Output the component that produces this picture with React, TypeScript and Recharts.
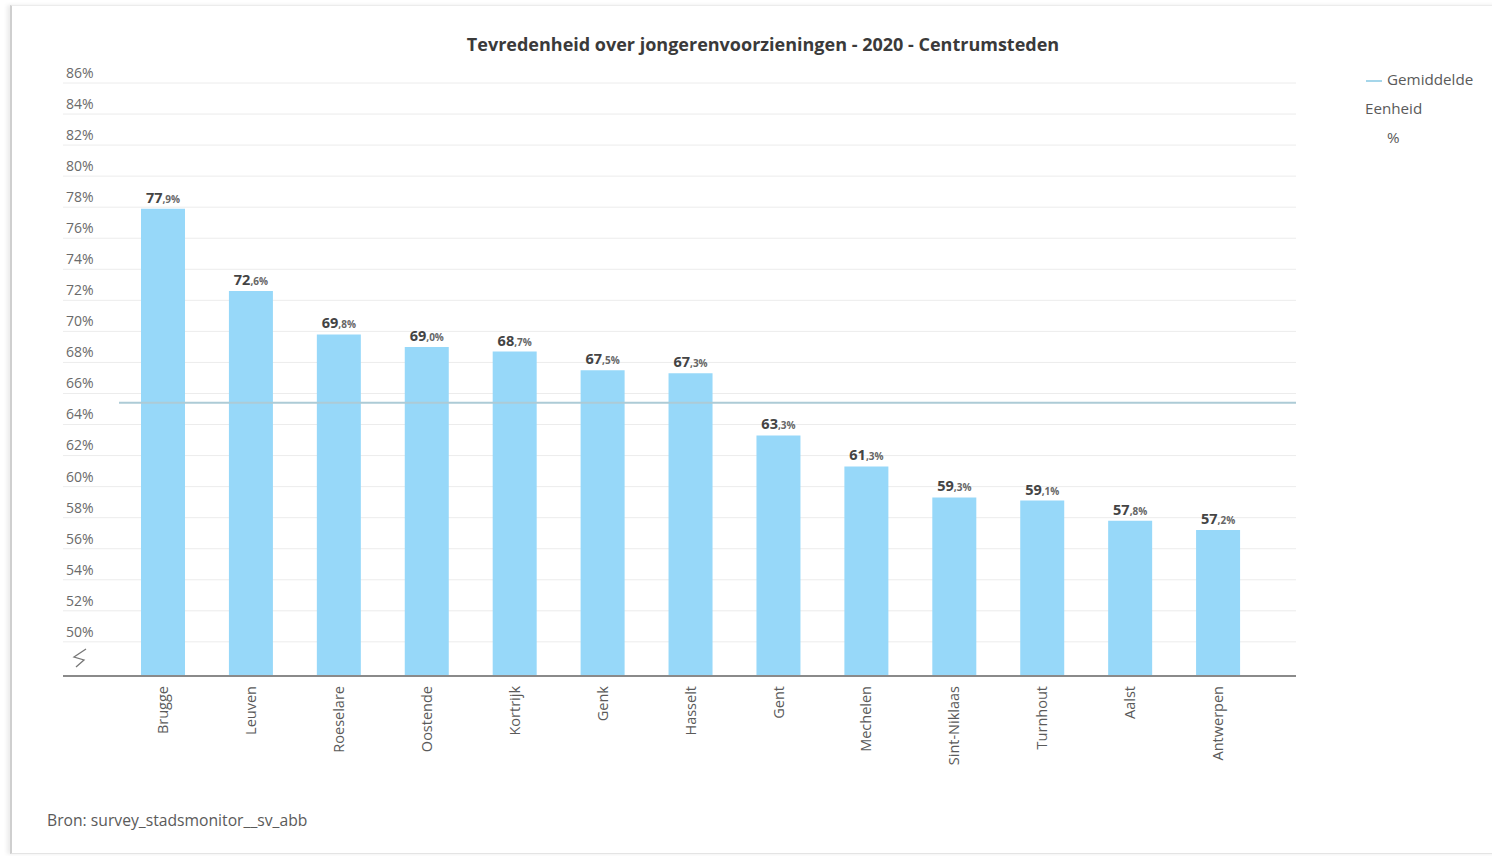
import { Bar, BarChart, CartesianGrid, LabelList, ReferenceLine, XAxis, YAxis } from 'recharts'

const cities = [
  'Brugge',
  'Leuven',
  'Roeselare',
  'Oostende',
  'Kortrijk',
  'Genk',
  'Hasselt',
  'Gent',
  'Mechelen',
  'Sint-Niklaas',
  'Turnhout',
  'Aalst',
  'Antwerpen'
]

const satisfaction = [77.9, 72.6, 69.8, 69.0, 68.7, 67.5, 67.3, 63.3, 61.3, 59.3, 59.1, 57.8, 57.2]

const average = 65.4

const yTicks = [50, 52, 54, 56, 58, 60, 62, 64, 66, 68, 70, 72, 74, 76, 78, 80, 82, 84, 86]

const FONT = '"Open Sans", "Noto Sans", sans-serif'
const BAR_COLOR = '#97d8f9'
const AVG_COLOR = '#adcbd6'
const TEXT = '#5a5a5a'
const PAD_LEFT = 56

const chartData = cities.map((city, i) => ({ city, value: satisfaction[i] }))

function YTick({ y, payload }: any) {
  return (
    <text x={66} y={y - 10} dy="0.35em" textAnchor="start" fontSize={14} fill="#6a6a6a" fontFamily={FONT}>
      {payload.value}%
    </text>
  )
}

function XTick({ x, y, payload }: any) {
  return (
    <g transform={`translate(${x},${y})`}>
      <text
        transform="rotate(-90)"
        x={-2}
        y={0}
        dy="0.35em"
        textAnchor="end"
        fontSize={14.5}
        fill={TEXT}
        fontFamily={FONT}
      >
        {payload.value}
      </text>
    </g>
  )
}

function ValueLabel({ x, y, width, value }: any) {
  const [whole, frac] = Number(value).toFixed(1).split('.')
  return (
    <text x={x + width / 2} y={y - 6} textAnchor="middle" fontFamily={FONT} fontWeight={700} fill="#444">
      <tspan fontSize={14.5}>{whole}</tspan>
      <tspan fontSize={10} fill="#666">,{frac}%</tspan>
    </text>
  )
}

function AvgLine({ x1, x2, y1, y2 }: any) {
  return <line x1={x1 + PAD_LEFT} x2={x2} y1={y1} y2={y2} stroke={AVG_COLOR} strokeWidth={2} />
}

export default function App() {
  return (
    <div style={{ position: 'absolute', left: 0, top: 0, width: 1492, height: 856, background: '#fff', overflow: 'hidden', fontFamily: FONT }}>
      <div
        style={{
          position: 'absolute',
          left: 10,
          top: 5,
          width: 1500,
          height: 847,
          borderLeft: '2px solid #cfcfcf',
          borderTop: '1px solid #ececec',
          borderBottom: '1px solid #e4e4e4',
          boxShadow: '-3px 0 4px rgba(0,0,0,0.08)'
        }}
      />
      <div
        style={{
          position: 'absolute',
          left: 0,
          width: 1526,
          top: 32,
          textAlign: 'center',
          fontSize: 18,
          fontWeight: 700,
          color: '#3a3a3a'
        }}
      >
        Tevredenheid over jongerenvoorzieningen - 2020 - Centrumsteden
      </div>

      <div style={{ position: 'absolute', left: 0, top: 0 }}>
        <BarChart width={1492} height={856} data={chartData} margin={{ top: 83, right: 196, bottom: 0, left: 0 }}>
          <CartesianGrid vertical={false} stroke="#ececec" />
          <XAxis
            dataKey="city"
            height={180}
            interval={0}
            tick={<XTick />}
            tickLine={false}
            axisLine={{ stroke: '#8a8a8a', strokeWidth: 2 }}
            padding={{ left: PAD_LEFT, right: 34 }}
          />
          <YAxis
            width={63}
            domain={[47.8, 86]}
            ticks={yTicks}
            allowDataOverflow
            tick={<YTick />}
            tickLine={false}
            axisLine={false}
          />
          <Bar dataKey="value" fill={BAR_COLOR} barSize={44} isAnimationActive={false}>
            <LabelList dataKey="value" content={<ValueLabel />} />
          </Bar>
          <ReferenceLine y={average} stroke={AVG_COLOR} strokeWidth={2} shape={<AvgLine />} />
        </BarChart>
      </div>

      <svg style={{ position: 'absolute', left: 70, top: 646 }} width={24} height={24}>
        <path d="M16 3 L4 11 L14 14 L6 21" fill="none" stroke="#777" strokeWidth={1.3} />
      </svg>

      <div style={{ position: 'absolute', left: 1366, top: 68, fontSize: 15.2, color: TEXT, lineHeight: '22px' }}>
        <span style={{ display: 'inline-block', width: 16, height: 2, background: '#a5d6ea', verticalAlign: 'middle', marginRight: 5 }} />
        Gemiddelde
      </div>
      <div style={{ position: 'absolute', left: 1365, top: 97, fontSize: 15.2, color: TEXT, lineHeight: '22px' }}>Eenheid</div>
      <div style={{ position: 'absolute', left: 1387, top: 126, fontSize: 15.2, color: TEXT, lineHeight: '22px' }}>%</div>

      <div style={{ position: 'absolute', left: 47, top: 809, fontSize: 15.7, color: TEXT, lineHeight: '22px' }}>
        Bron: survey_stadsmonitor__sv_abb
      </div>
    </div>
  )
}
